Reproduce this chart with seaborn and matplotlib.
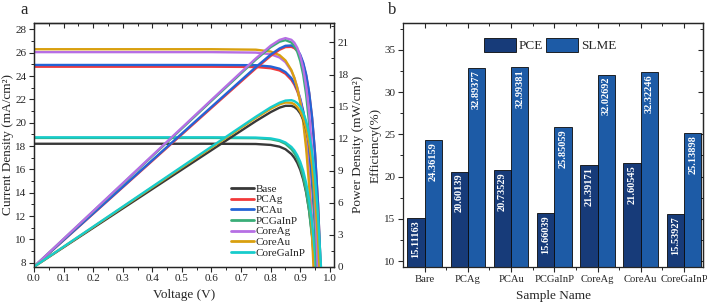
import matplotlib
matplotlib.use('Agg')
import matplotlib.pyplot as plt
import seaborn as sns
import pandas as pd
from matplotlib.lines import Line2D
from matplotlib.patches import Patch
from matplotlib.ticker import MultipleLocator, FormatStrFormatter

# ---- panel a: J-V and P-V curves ----
voltage = [0, 0.6, 0.75, 0.8, 0.83, 0.85, 0.87, 0.88, 0.89, 0.9,
           0.91, 0.92, 0.93, 0.94, 0.95, 0.96, 0.97, 0.98]

j_base = [18.2, 18.2, 18.18, 18.10, 17.95, 17.73, 17.32, 17.00, 16.56, 15.96,
          15.14, 14.01, 12.47, 10.37, 7.50, 3.58, -1.78, -9.12]
j_pcag = [24.8, 24.8, 24.78, 24.67, 24.48, 24.20, 23.67, 23.26, 22.70, 21.93,
          20.88, 19.44, 17.47, 14.78, 11.11, 6.08, -0.78, -10.17]
j_pcau = [24.95, 24.95, 24.93, 24.82, 24.63, 24.34, 23.82, 23.41, 22.84, 22.06,
          21.00, 19.55, 17.57, 14.87, 11.17, 6.12, -0.79, -10.23]
j_pcgainp = [18.7, 18.7, 18.68, 18.59, 18.43, 18.19, 17.74, 17.39, 16.90, 16.25,
             15.35, 14.12, 12.44, 10.14, 7.00, 2.71, -3.16, -11.18]
j_coreag = [26.05, 26.05, 26.01, 25.87, 25.59, 25.19, 24.43, 23.84, 23.03, 21.93,
            20.42, 18.35, 15.53, 11.66, 6.39, -0.83, -10.69, -24.16]
j_coreau = [26.3, 26.3, 26.26, 26.10, 25.79, 25.34, 24.51, 23.85, 22.96, 21.73,
            20.05, 17.76, 14.63, 10.35, 4.50, -3.50, -14.44, -29.38]
j_coregainp = [18.75, 18.75, 18.73, 18.66, 18.51, 18.31, 17.93, 17.63, 17.21, 16.65,
               15.88, 14.82, 13.38, 11.41, 8.72, 5.03, 0.0, -6.88]

p_base = [0, 10.92, 13.64, 14.48, 14.90, 15.07, 15.07, 14.96, 14.74, 14.36,
          13.78, 12.89, 11.60, 9.75, 7.13, 3.44, -1.73, -8.94]
p_pcag = [0, 14.88, 18.58, 19.74, 20.32, 20.57, 20.59, 20.47, 20.20, 19.74,
          19.00, 17.88, 16.25, 13.89, 10.55, 5.84, -0.76, -9.97]
p_pcau = [0, 14.97, 18.70, 19.86, 20.44, 20.69, 20.72, 20.60, 20.33, 19.85,
          19.11, 17.99, 16.34, 13.98, 10.61, 5.88, -0.77, -10.03]
p_pcgainp = [0, 15.54, 19.40, 20.56, 21.07, 21.22, 21.00, 20.67, 20.12, 19.26,
             17.97, 16.09, 13.40, 9.58, 4.21, -3.31, -13.79, -28.35]
p_coreag = [0, 15.63, 19.51, 20.70, 21.24, 21.41, 21.25, 20.98, 20.50, 19.74,
            18.58, 16.88, 14.44, 10.96, 6.07, -0.80, -10.37, -23.68]
p_coreau = [0, 11.16, 13.94, 14.79, 15.21, 15.38, 15.35, 15.22, 14.96, 14.54,
            13.90, 12.92, 11.50, 9.48, 6.61, 2.58, -3.05, -10.90]
p_coregainp = [0, 11.25, 14.05, 14.93, 15.36, 15.56, 15.60, 15.51, 15.32, 14.99,
               14.45, 13.63, 12.44, 10.73, 8.28, 4.83, 0.0, -6.74]

curve_names = ['Base', 'PCAg', 'PCAu', 'PCGaInP', 'CoreAg', 'CoreAu', 'CoreGaInP']
curve_colors = ['#383838', '#f2393a', '#2463d6', '#3aae78', '#b66fe4', '#d9a00f', '#17cccc']
j_curves = [j_base, j_pcag, j_pcau, j_pcgainp, j_coreag, j_coreau, j_coregainp]
p_curves = [p_base, p_pcag, p_pcau, p_pcgainp, p_coreag, p_coreau, p_coregainp]

# ---- panel b: efficiencies ----
samples = ['Bare', 'PCAg', 'PCAu', 'PCGaInP', 'CoreAg', 'CoreAu', 'CoreGaInP']
pce = [15.11163, 20.60139, 20.73529, 15.66039, 21.39171, 21.60545, 15.53927]
slme = [24.36159, 32.89377, 32.99381, 25.85059, 32.02692, 32.32246, 25.13898]
bar_colors = ['#173b79', '#1d5ba6']

sns.set_style('ticks')
plt.rcParams['font.family'] = ['Liberation Serif', 'DejaVu Serif']
plt.rcParams['axes.linewidth'] = 0.9

fig = plt.figure(figsize=(7.07, 3.07), dpi=100)
ax = fig.add_axes([0.048, 0.131, 0.424, 0.795])
ax2 = ax.twinx()

for name, col, jv, pv in zip(curve_names, curve_colors, j_curves, p_curves):
    sns.lineplot(x=voltage, y=jv, ax=ax, color=col, linewidth=1.7,
                 sort=False, estimator=None)
    sns.lineplot(x=voltage, y=pv, ax=ax2, color=col, linewidth=1.7,
                 sort=False, estimator=None)

ax.set_xlim(0, 1.013)
ax.set_ylim(7.66, 28.57)
ax2.set_ylim(0, 22.85)
ax.xaxis.set_major_locator(MultipleLocator(0.1))
ax.xaxis.set_minor_locator(MultipleLocator(0.05))
ax.yaxis.set_major_locator(MultipleLocator(2))
ax.yaxis.set_minor_locator(MultipleLocator(1))
ax2.yaxis.set_major_locator(MultipleLocator(3))
ax2.yaxis.set_minor_locator(MultipleLocator(1.5))
ax.xaxis.set_major_formatter(FormatStrFormatter('%.1f'))

ax.tick_params(which='major', direction='out', length=3.5, width=0.8, labelsize=8, pad=2)
ax.tick_params(which='minor', direction='out', length=2, width=0.7)
ax2.tick_params(which='major', direction='in', length=3.5, width=0.8, labelsize=8, pad=3)
ax2.tick_params(which='minor', direction='in', length=2, width=0.7)
top_a = ax.secondary_xaxis('top')
top_a.xaxis.set_major_locator(MultipleLocator(0.1))
top_a.xaxis.set_minor_locator(MultipleLocator(0.05))
top_a.tick_params(which='major', direction='in', length=3.5, width=0.8, labeltop=False)
top_a.tick_params(which='minor', direction='in', length=2, width=0.7)

ax.set_xlabel('Voltage (V)', fontsize=9.5, labelpad=4)
ax.set_ylabel('Current Density (mA/cm²)', fontsize=9.5, labelpad=1)
ax2.set_ylabel('Power Density (mW/cm²)', fontsize=9.5, labelpad=2)

handles = [Line2D([], [], color=c, linewidth=2) for c in curve_colors]
ax.legend(handles, curve_names, loc='lower left', bbox_to_anchor=(0.63, 0.005),
          frameon=False, fontsize=8, handlelength=2.1, handletextpad=0.15,
          labelspacing=0.08, borderpad=0.2)

# ---- panel b ----
bx = fig.add_axes([0.570, 0.129, 0.425, 0.797])
df = pd.DataFrame({
    'Sample': samples * 2,
    'Efficiency': pce + slme,
    'Metric': ['PCE'] * len(samples) + ['SLME'] * len(samples),
})
sns.barplot(data=df, x='Sample', y='Efficiency', hue='Metric', palette=bar_colors,
            saturation=1, width=0.8, edgecolor='#0a0a0a', linewidth=0.6,
            legend=False, ax=bx)
for cont, vals in zip(bx.containers, [pce, slme]):
    texts = bx.bar_label(cont, labels=[f'{v:.5f}' for v in vals], padding=-1.5,
                         rotation=90, color='white', fontsize=7.5, fontweight='bold')
    for t in texts:
        t.set_va('top')

bx.set_ylim(9.26, 38.2)
bx.set_xlim(-0.5, 6.45)
bx.yaxis.set_major_locator(MultipleLocator(5))
bx.yaxis.set_minor_locator(MultipleLocator(2.5))
bx.set_xticks(range(len(samples)))
bx.set_xticks([i + 0.5 for i in range(len(samples) - 1)], minor=True)
bx.tick_params(which='major', direction='out', length=3.5, width=0.8, labelsize=8, pad=2)
bx.tick_params(axis='x', labelsize=7.7)
bx.tick_params(which='minor', direction='out', length=2, width=0.7)
top_b = bx.secondary_xaxis('top')
top_b.set_xticks(range(len(samples)))
top_b.set_xticks([i + 0.5 for i in range(len(samples) - 1)], minor=True)
top_b.tick_params(which='major', direction='in', length=3.5, width=0.8, labeltop=False)
top_b.tick_params(which='minor', direction='in', length=2, width=0.7)
right_b = bx.secondary_yaxis('right')
right_b.yaxis.set_major_locator(MultipleLocator(5))
right_b.yaxis.set_minor_locator(MultipleLocator(2.5))
right_b.tick_params(which='major', direction='in', length=3.5, width=0.8, labelright=False)
right_b.tick_params(which='minor', direction='in', length=2, width=0.7)

bx.set_xlabel('Sample Name', fontsize=9.5, labelpad=4)
bx.set_ylabel('Efficiency(%)', fontsize=9.5, labelpad=2)

leg_handles = [Patch(facecolor=c, edgecolor='#0a0a0a', linewidth=0.6) for c in bar_colors]
bx.legend(leg_handles, ['PCE', 'SLME'], loc='upper center', bbox_to_anchor=(0.49, 0.985),
          ncol=2, frameon=False, fontsize=9.5, handlelength=2.4, handleheight=1.2,
          handletextpad=0.25, columnspacing=0.2)

fig.text(0.029, 0.955, 'a', fontsize=12)
fig.text(0.549, 0.955, 'b', fontsize=12)

fig.savefig('out.png', dpi=100)
